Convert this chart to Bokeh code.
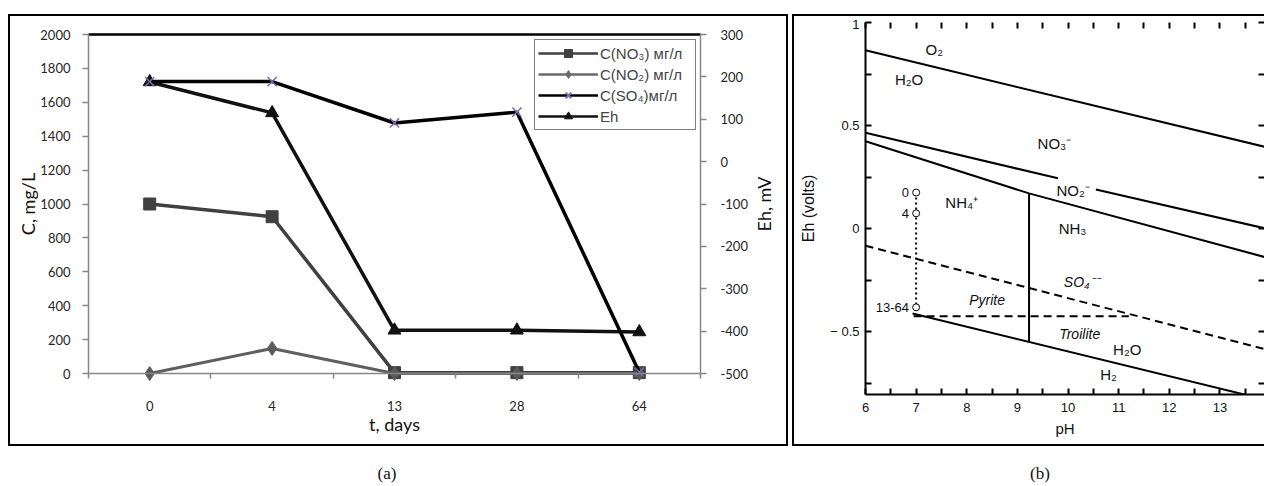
import math
from bokeh.plotting import figure
from bokeh.models import (Range1d, LinearAxis, FixedTicker, Legend, LegendItem,
                          ColumnDataSource, Div)
from bokeh.layouts import row, column
from bokeh.embed import file_html
from bokeh.resources import INLINE
from bokeh.core.properties import value

# ---------------- data: panel (a) ----------------
days = ["0", "4", "13", "28", "64"]
c_no3 = [1000, 925, 5, 5, 5]
c_no2 = [0, 148, 0, 0, 0]
c_so4 = [1722, 1722, 1478, 1542, 8]
eh_mv = [188, 115, -398, -398, -402]
legend_labels = ["C(NO₃) мг/л", "C(NO₂) мг/л", "C(SO₄)мг/л", "Eh"]
c_ticks = list(range(0, 2001, 200))
eh_ticks = list(range(-500, 301, 100))

# ---------------- data: panel (b) ----------------
o2_ph = [6, 14]
o2_eh = [0.865, 0.39]
no3_ph_a = [6, 9.8]
no3_eh_a = [0.465, 0.244]
no3_ph_b = [10.55, 14]
no3_eh_b = [0.19, -0.005]
no2_ph = [6, 9.23, 14]
no2_eh = [0.424, 0.171, -0.146]
nh_ph = [9.23, 9.23]
nh_eh = [0.171, -0.552]
h2_ph = [6.93, 13.5]
h2_eh = [-0.412, -0.806]
so4_ph = [6, 14]
so4_eh = [-0.083, -0.592]
pyr_ph = [6.95, 11.2]
pyr_eh = [-0.425, -0.425]
samp_ph = [7, 7, 7]
samp_eh = [0.175, 0.074, -0.382]
samp_lab = ["0", "4", "13-64"]
sp_text = ["O₂", "H₂O", "NO₃⁻", "NO₂⁻", "NH₄⁺", "NH₃", "H₂O", "H₂"]
sp_ph = [7.36, 6.86, 9.73, 10.1, 7.9, 10.09, 11.17, 10.8]
sp_eh = [0.869, 0.723, 0.412, 0.184, 0.128, 0.0, -0.587, -0.709]
it_text = ["SO₄⁻⁻", "Pyrite", "Troilite"]
it_ph = [10.27, 8.4, 10.23]
it_eh = [-0.26, -0.345, -0.51]
ph_major = list(range(6, 15))
ph_minor = [v + 0.5 for v in range(6, 14)]
eh_major = [-0.5, 0, 0.5, 1]
eh_minor = [-0.75, -0.25, 0.25, 0.75]

GRAY = "#868686"
FA = "Lato"
FB = "Liberation Sans"
BOX = {"outline": "2.5px solid black", "outline-offset": "0px"}

# ================= panel (a) =================
# Layout geometry (pixels inside the 776x428 panel): the category area is 612 px wide
# starting 78 px from the left, and the C axis (0..2000) is 339 px tall starting 18 px from
# the top. The frame fills the whole panel, so all axes sit at fixed locations.
n = len(days)
xi = list(range(n))
W, H = 776, 428
PX_X = 612 / n            # px per category
PX_Y = 339 / 2000         # px per mg/L
x_first = -0.5
x_last = n - 0.5
x_lo = x_first - 78 / PX_X
x_hi = x_first + (W - 78) / PX_X
c_hi = 2000 + 18 / PX_Y
c_lo = -(H - 18 - 339) / PX_Y
eh_per_c = 800 / 2000
eh_lo = -500 + c_lo * eh_per_c
eh_hi = -500 + c_hi * eh_per_c

pa = figure(width=W, height=H, output_backend="svg", toolbar_location=None,
            x_range=Range1d(x_lo, x_hi), y_range=Range1d(c_lo, c_hi),
            min_border=0, x_axis_location=None, y_axis_location=None,
            margin=(16, 8, 0, 10), styles=BOX)
pa.extra_y_ranges = {"eh": Range1d(eh_lo, eh_hi)}
pa.xgrid.visible = False
pa.ygrid.visible = False
pa.outline_line_color = None


def style_axis(ax, size="13px"):
    ax.axis_line_color = GRAY
    ax.axis_line_width = 1.5
    ax.major_tick_line_color = GRAY
    ax.minor_tick_line_color = GRAY
    ax.major_tick_line_width = 1.5
    ax.minor_tick_line_width = 1.5
    ax.major_tick_in = 0
    ax.major_tick_out = 6
    ax.minor_tick_in = 0
    ax.minor_tick_out = 0
    ax.major_label_text_font = FA
    ax.major_label_text_font_size = size
    ax.major_label_text_color = "#262626"


yl = LinearAxis(ticker=FixedTicker(ticks=c_ticks), fixed_location=x_first, bounds=(0, 2000))
style_axis(yl)
yl.major_label_standoff = 12
pa.add_layout(yl, "left")

yr = LinearAxis(y_range_name="eh", ticker=FixedTicker(ticks=eh_ticks), fixed_location=x_last,
                bounds=(-500, 300))
style_axis(yr)
yr.major_label_overrides = {v: str(v) for v in eh_ticks}
yr.major_label_standoff = 14
pa.add_layout(yr, "right")

xb = LinearAxis(ticker=FixedTicker(ticks=xi, minor_ticks=[i - 0.5 for i in range(n + 1)]),
                fixed_location=0, bounds=(x_first, x_last))
style_axis(xb)
xb.major_tick_out = 0
xb.minor_tick_out = 5
xb.major_label_overrides = {i: d for i, d in enumerate(days)}
xb.major_label_standoff = 22
pa.add_layout(xb, "below")

xt = LinearAxis(ticker=FixedTicker(ticks=[]), fixed_location=2000, bounds=(x_first, x_last))
xt.axis_line_color = "black"
xt.axis_line_width = 2.5
xt.major_tick_line_color = None
xt.minor_tick_line_color = None
pa.add_layout(xt, "above")

# axis titles
title_font = dict(text_font=value(FA), text_font_size="18px", text_color="#111111",
                  text_align="center", text_baseline="middle")
pa.text(x=[x_first - 61 / PX_X], y=[1000], text=["C, mg/L"], angle=math.pi / 2, **title_font)
pa.text(x=[(x_first + x_last) / 2], y=[-50 / PX_Y], text=["t, days"], **title_font)
pa.text(x=[x_first + 675 / PX_X], y=[-100], y_range_name="eh", text=["Eh, mV"],
        angle=math.pi / 2, **title_font)

src = ColumnDataSource(dict(x=xi, no3=c_no3, no2=c_no2, so4=c_so4, eh=eh_mv))
pa.line("x", "no3", source=src, line_color="#404040", line_width=3.5)
pa.scatter("x", "no3", source=src, marker="square", size=12,
           fill_color="#404040", line_color="#404040")
pa.line("x", "no2", source=src, line_color="#5f5f5f", line_width=3)
pa.scatter("x", "no2", source=src, marker="diamond", size=14,
           fill_color="#5a5a5a", line_color="#5a5a5a")
pa.line("x", "eh", source=src, y_range_name="eh", line_color="#111111", line_width=3.5)
pa.scatter("x", "eh", source=src, y_range_name="eh", marker="triangle", size=13,
           fill_color="#111111", line_color="#111111")
pa.line("x", "so4", source=src, line_color="black", line_width=3.5)
pa.scatter("x", "so4", source=src, marker="x", size=13, line_color="#7e68a8", line_width=1.5)

# legend proxies (no visible data; small markers as in the reference legend)
nan = float("nan")
empty = ColumnDataSource(dict(x=[nan], y=[nan]))
l1 = pa.line("x", "y", source=empty, line_color="#404040", line_width=2.5)
m1 = pa.scatter("x", "y", source=empty, marker="square", size=7,
                fill_color="#404040", line_color="#404040")
l2 = pa.line("x", "y", source=empty, line_color="#6a6a6a", line_width=2.5)
m2 = pa.scatter("x", "y", source=empty, marker="diamond", size=7,
                fill_color="#6a6a6a", line_color="#6a6a6a")
l3 = pa.line("x", "y", source=empty, line_color="black", line_width=2.5)
m3 = pa.scatter("x", "y", source=empty, marker="x", size=8, line_color="#7e68a8", line_width=2)
l4 = pa.line("x", "y", source=empty, line_color="#111111", line_width=2.5)
m4 = pa.scatter("x", "y", source=empty, marker="triangle", size=7,
                fill_color="#111111", line_color="#111111")
items = [LegendItem(label=legend_labels[0], renderers=[l1, m1]),
         LegendItem(label=legend_labels[1], renderers=[l2, m2]),
         LegendItem(label=legend_labels[2], renderers=[l3, m3]),
         LegendItem(label=legend_labels[3], renderers=[l4, m4])]
leg = Legend(items=items, location=(524, 314), margin=0, padding=3, spacing=1,
             glyph_width=60, glyph_height=20, label_height=20, label_width=92,
             label_standoff=2,
             border_line_color="black", border_line_width=1.5,
             label_text_font=FB, label_text_font_size="15px",
             background_fill_alpha=1.0)
pa.add_layout(leg)

cap_a = Div(text="(a)", width=758, height=24, margin=(18, 0, 0, 8),
            styles={"text-align": "center", "font-family": "Liberation Serif",
                    "font-size": "17px", "color": "#111111"})

# ================= panel (b) =================
pb = figure(width=470, height=428, output_backend="svg", toolbar_location=None,
            x_range=Range1d(6, 13.88), y_range=Range1d(-0.805, 1.0),
            min_border_left=71, min_border_right=0, min_border_top=6,
            min_border_bottom=50, x_axis_location=None, y_axis_location=None,
            margin=(16, 0, 0, 0), styles=BOX)
pb.xgrid.visible = False
pb.ygrid.visible = False
pb.outline_line_color = None


def style_b(ax):
    ax.axis_line_color = "black"
    ax.axis_line_width = 2
    ax.major_tick_line_color = "black"
    ax.minor_tick_line_color = "black"
    ax.major_tick_line_width = 2
    ax.minor_tick_line_width = 2
    ax.major_tick_in = 6
    ax.major_tick_out = 0
    ax.minor_tick_in = 6
    ax.minor_tick_out = 0
    ax.major_label_text_font = FB
    ax.major_label_text_font_size = "13px"
    ax.major_label_text_color = "#111111"
    ax.axis_label_text_font = FB
    ax.axis_label_text_font_size = "16px"
    ax.axis_label_text_font_style = "normal"
    ax.axis_label_text_color = "#111111"


bl = LinearAxis(ticker=FixedTicker(ticks=eh_major, minor_ticks=eh_minor), axis_label="Eh (volts)")
style_b(bl)
bl.major_label_overrides = {-0.5: "− 0.5", 0: "0", 0.5: "0.5", 1: "1"}
bl.major_label_standoff = 6
bl.axis_label_standoff = 10
pb.add_layout(bl, "left")

bb = LinearAxis(ticker=FixedTicker(ticks=ph_major, minor_ticks=ph_minor), axis_label="pH")
style_b(bb)
bb.axis_label_text_font_size = "15px"
bb.major_label_standoff = 8
bb.axis_label_standoff = 5
pb.add_layout(bb, "below")

# top / right: tick marks only (minor ticks carry no labels)
bt = LinearAxis(ticker=FixedTicker(ticks=[], minor_ticks=ph_major + ph_minor))
style_b(bt)
bt.axis_line_color = None
bt.major_label_standoff = 0
pb.add_layout(bt, "above")

br = LinearAxis(ticker=FixedTicker(ticks=[], minor_ticks=eh_major + eh_minor))
style_b(br)
br.axis_line_color = None
br.major_label_standoff = 0
pb.add_layout(br, "right")

for xs, ys in [(o2_ph, o2_eh), (no3_ph_a, no3_eh_a), (no3_ph_b, no3_eh_b),
               (no2_ph, no2_eh), (nh_ph, nh_eh), (h2_ph, h2_eh)]:
    pb.line(xs, ys, line_color="black", line_width=2)
pb.line(so4_ph, so4_eh, line_color="black", line_width=2, line_dash="8 5")
pb.line(pyr_ph, pyr_eh, line_color="black", line_width=2, line_dash="8 5")
pb.line(samp_ph, samp_eh, line_color="black", line_width=2, line_dash="2 3")
pb.scatter(samp_ph, samp_eh, marker="circle", size=7, fill_color="white",
           line_color="black", line_width=1)
pb.text([p - 0.14 for p in samp_ph], samp_eh, text=samp_lab, text_font=value(FB),
        text_font_size="13px", text_align="right", text_baseline="middle", text_color="#111111")
pb.text(sp_ph, sp_eh, text=sp_text, text_font=value(FB), text_font_size="15px",
        text_align="center", text_baseline="middle", text_color="#111111")
pb.text(it_ph, it_eh, text=it_text, text_font=value(FB), text_font_size="14px",
        text_font_style="italic", text_align="center", text_baseline="middle",
        text_color="#111111")

cap_b = Div(text="(b)", width=470, height=24, margin=(18, 0, 0, 0),
            styles={"text-indent": "236px", "font-family": "Liberation Serif",
                    "font-size": "17px", "color": "#111111"})

layout = row(column(pa, cap_a), column(pb, cap_b))
open("out.html", "w").write(file_html(layout, INLINE))
